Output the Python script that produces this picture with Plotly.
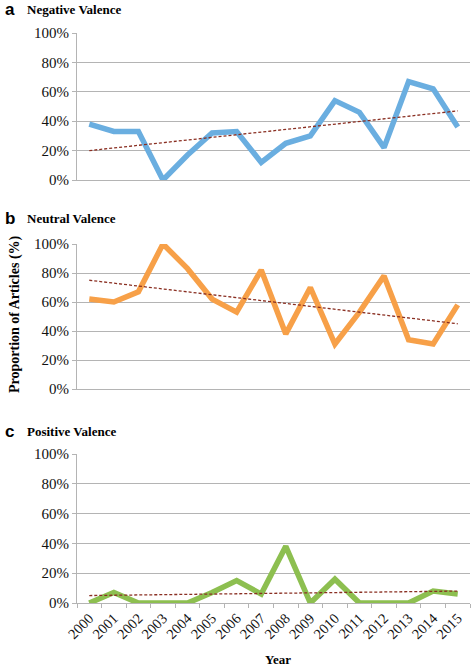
import plotly.graph_objects as go

years = [str(y) for y in range(2000, 2016)]
negative = [38, 33, 33, 0, 17, 32, 33, 12, 25, 30, 54, 46, 22, 67, 62, 36]
neutral = [62, 60, 67, 100, 83, 62, 53, 82, 38, 70, 31, 53, 78, 34, 31, 58]
positive = [0, 7, 0, 0, 0, 7, 15, 6, 38, 0, 16, 0, 0, 0, 8, 6]
trend_years = ["2000", "2015"]
negative_trend = [20, 47]
neutral_trend = [75, 45]
positive_trend = [5, 8]

panel_letters = ["a", "b", "c"]
panel_titles = ["Negative Valence", "Neutral Valence", "Positive Valence"]
y_ticks = [0, 20, 40, 60, 80, 100]
y_tick_labels = ["0%", "20%", "40%", "60%", "80%", "100%"]

colors = ["#6aaee0", "#f7a048", "#8dbf50"]
trend_color = "#8a2f22"
H = 666
W = 472

def py(p):
    return 1 - p / H

domains = [(py(180), py(33)), (py(389), py(244)), (py(603), py(454))]
xdom = [77 / W, 470 / W]

fig = go.Figure()
series = [negative, neutral, positive]
trends = [negative_trend, neutral_trend, positive_trend]
for i in range(3):
    n = "" if i == 0 else str(i + 1)
    fig.add_trace(go.Scatter(x=years, y=series[i], mode="lines",
                             line=dict(color=colors[i], width=5.5),
                             cliponaxis=False, xaxis="x" + n, yaxis="y" + n,
                             showlegend=False))
    fig.add_trace(go.Scatter(x=trend_years, y=trends[i], mode="lines",
                             line=dict(color=trend_color, width=1.3, dash="3px,2px"),
                             cliponaxis=False, xaxis="x" + n, yaxis="y" + n,
                             showlegend=False))

serif = "Liberation Serif, Times New Roman, serif"
layout = dict(width=W, height=H, margin=dict(l=0, r=0, t=0, b=0, autoexpand=False),
              paper_bgcolor="white", plot_bgcolor="white")
for i in range(3):
    n = "" if i == 0 else str(i + 1)
    layout["xaxis" + n] = dict(
        domain=xdom, anchor="y" + n, type="category", automargin=False,
        categoryorder="array", categoryarray=years,
        range=[-0.5, 15.5], showgrid=False, zeroline=False,
        showline=True, linecolor="#b4b4b4", linewidth=1.2,
        showticklabels=(i == 2), ticks="outside" if i == 2 else "",
        tickson="boundaries", ticklen=4, tickcolor="#b4b4b4",
        tickangle=-45, tickfont=dict(family=serif, size=14.5, color="#111"),
        fixedrange=True)
    layout["yaxis" + n] = dict(
        domain=list(domains[i]), anchor="x" + n, range=[0, 100], automargin=False,
        tickvals=y_ticks, ticktext=y_tick_labels,
        showgrid=True, gridcolor="#b4b4b4", gridwidth=1.2, zeroline=False,
        showline=True, linecolor="#b4b4b4", linewidth=1.2,
        ticks="outside", ticklen=4, tickcolor="#b4b4b4",
        tickfont=dict(family=serif, size=15, color="#111"), fixedrange=True)

title_y = [10, 218, 431]
annotations = []
for i in range(3):
    annotations.append(dict(x=3 / W, y=py(title_y[i]), xref="paper", yref="paper",
                            text="<b>" + panel_letters[i] + "</b>", showarrow=False,
                            xanchor="left", yanchor="middle",
                            font=dict(family="Liberation Sans, Arial, sans-serif", size=17, color="black")))
    annotations.append(dict(x=25 / W, y=py(title_y[i]), xref="paper", yref="paper",
                            text="<b>" + panel_titles[i] + "</b>", showarrow=False,
                            xanchor="left", yanchor="middle",
                            font=dict(family=serif, size=13, color="black")))
annotations.append(dict(x=15 / W, y=py(314), xref="paper", yref="paper",
                        text="<b>Proportion of Articles (%)</b>", showarrow=False,
                        textangle=-90, xanchor="center", yanchor="middle",
                        font=dict(family=serif, size=14, color="black")))
annotations.append(dict(x=278 / W, y=py(659), xref="paper", yref="paper",
                        text="<b>Year</b>", showarrow=False,
                        xanchor="center", yanchor="middle",
                        font=dict(family=serif, size=13, color="black")))
layout["annotations"] = annotations

fig.update_layout(**layout)
fig.write_html("out.html", config={"displayModeBar": False},
               post_script="document.body.style.margin='0';document.body.style.overflow='hidden';")
